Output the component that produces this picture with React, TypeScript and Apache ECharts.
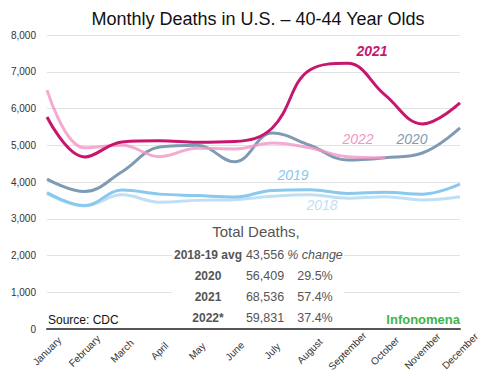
import React, { useEffect, useRef } from "react";
import * as echarts from "echarts";

const months = ["January", "February", "March", "April", "May", "June", "July", "August", "September", "October", "November", "December"];
const y2018 = [3680, 3350, 3650, 3450, 3500, 3520, 3610, 3650, 3560, 3600, 3510, 3600];
const y2019 = [3710, 3360, 3780, 3670, 3630, 3590, 3770, 3790, 3690, 3720, 3670, 3940];
const y2020 = [4080, 3740, 4280, 4950, 5000, 4550, 5330, 5000, 4600, 4660, 4790, 5470];
const y2021 = [5770, 4680, 5090, 5120, 5080, 5100, 5470, 7050, 7230, 6370, 5580, 6150];
const y2022 = [6500, 4930, 5000, 4690, 4920, 4900, 5060, 4930, 4690, 4660, null, null];

const tableRows = ["2018-19 avg", "2020", "2021", "2022*"];
const tableTotals = ["43,556", "56,409", "68,536", "59,831"];
const tableChange = ["% change", "29.5%", "57.4%", "37.4%"];

const FONT = "Liberation Sans, Arial, Helvetica, sans-serif";

export default function App() {
  const ref = useRef<HTMLDivElement>(null);
  useEffect(() => {
    if (!ref.current) return;
    const chart = echarts.init(ref.current, null, { renderer: "svg" });
    const line = (name: string, data: (number | null)[], color: string, z: number, opacity = 1) => ({
      name,
      type: "line",
      data,
      smooth: 0.4,
      symbol: "none",
      z,
      lineStyle: { color, width: 3, opacity },
      itemStyle: { color },
    });
    const rowY = [255, 276, 297, 318];
    const tableTexts: any[] = [];
    tableRows.forEach((r, i) => {
      tableTexts.push({
        type: "text", x: 208, y: rowY[i], z: 101,
        style: { text: r, fill: "#555", font: `bold 12px ${FONT}`, textAlign: "center", textVerticalAlign: "middle" },
      });
      tableTexts.push({
        type: "text", x: 265, y: rowY[i], z: 101,
        style: { text: tableTotals[i], fill: "#555", font: `12.5px ${FONT}`, textAlign: "center", textVerticalAlign: "middle" },
      });
      tableTexts.push({
        type: "text", x: 315, y: rowY[i], z: 101,
        style: { text: tableChange[i], fill: "#555", font: `${i === 0 ? "italic " : ""}12.5px ${FONT}`, textAlign: "center", textVerticalAlign: "middle" },
      });
    });
    const label = (text: string, x: number, y: number, color: string, bold = false) => ({
      type: "text", x, y, z: 101,
      style: { text, fill: color, font: `italic ${bold ? "bold" : "500"} 14px ${FONT}`, textAlign: "center", textVerticalAlign: "middle" },
    });
    chart.setOption({
      animation: false,
      backgroundColor: "#fff",
      title: {
        text: "Monthly Deaths in U.S. – 40-44 Year Olds",
        left: 253, top: 5, textAlign: "center",
        textStyle: { fontFamily: FONT, fontSize: 18, fontWeight: "normal", color: "#111" },
      },
      grid: { left: 47, right: 40, top: 35, bottom: 49 },
      xAxis: {
        type: "category",
        data: months,
        boundaryGap: false,
        axisLine: { lineStyle: { color: "#555", width: 2 } },
        axisTick: { show: false },
        axisLabel: {
          rotate: 45, fontSize: 10, color: "#333", fontFamily: FONT, margin: 22, interval: 0,
          align: "center", verticalAlign: "middle",
        },
      },
      yAxis: {
        type: "value",
        min: 0, max: 8000, interval: 1000,
        axisLabel: {
          fontSize: 10, color: "#333", fontFamily: FONT, margin: 11,
          formatter: (v: number) => v.toLocaleString("en-US"),
        },
        splitLine: { lineStyle: { color: "#e2e2e2", width: 1 } },
        axisLine: { show: false },
      },
      series: [
        line("2018", y2018, "#bfe0f4", 2),
        line("2019", y2019, "#89c8ef", 3),
        line("2020", y2020, "#7f9bb3", 4),
        line("2022", y2022, "#f296c5", 5, 0.8),
        line("2021", y2021, "#c8166f", 6),
      ],
      graphic: [
        { type: "rect", shape: { x: 172, y: 222, width: 172, height: 104 }, style: { fill: "#fff" }, z: 100 },
        {
          type: "text", x: 256, y: 231, z: 101,
          style: { text: "Total Deaths,", fill: "#555", font: `15px ${FONT}`, textAlign: "center", textVerticalAlign: "middle" },
        },
        ...tableTexts,
        label("2021", 372, 51, "#c8166f", true),
        label("2022", 358, 139, "#f296c5"),
        label("2020", 412, 139, "#7f9bb3"),
        label("2019", 293, 175, "#89c8ef"),
        label("2018", 322, 205, "#bfe0f4"),
        {
          type: "text", x: 48, y: 320, z: 101,
          style: { text: "Source: CDC", fill: "#111", font: `12px ${FONT}`, textAlign: "left", textVerticalAlign: "middle" },
        },
        {
          type: "text", x: 460, y: 319, z: 101,
          style: { text: "Infonomena", fill: "#3db54a", font: `bold 13px ${FONT}`, textAlign: "right", textVerticalAlign: "middle" },
        },
      ],
    });
    return () => chart.dispose();
  }, []);
  return <div ref={ref} style={{ width: 500, height: 378, position: "absolute", left: 0, top: 0 }} />;
}
